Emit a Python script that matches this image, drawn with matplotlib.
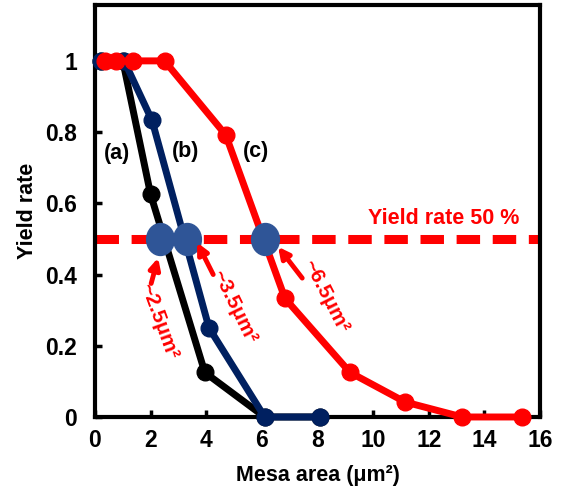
import matplotlib.pyplot as plt
from matplotlib.path import Path
from matplotlib.transforms import Affine2D

plt.rcParams["font.family"] = ["Liberation Sans", "DejaVu Sans"]
plt.rcParams["font.weight"] = "bold"

# (a) black, (b) navy, (c) red
area_a = [0.2, 1.0, 2.0, 3.95, 6.1, 8.1]
yield_a = [1, 1, 0.625, 0.125, 0, 0]
area_b = [0.2, 1.05, 2.05, 4.1, 6.1, 8.1]
yield_b = [1, 1, 0.833, 0.25, 0, 0]
area_c = [0.35, 0.75, 1.35, 2.5, 4.7, 6.83, 9.17, 11.15, 13.2, 15.35]
yield_c = [1, 1, 1, 1, 0.792, 0.333, 0.125, 0.042, 0, 0]

# 50 % crossing points
cross_x = [2.35, 3.3, 6.1]
cross_y = [0.5, 0.5, 0.5]
cross_text = ["~2.5μm²", "~3.5μm²", "~6.5μm²"]
cross_text_xy = [(2.3, 0.27), (5.0, 0.31), (8.3, 0.34)]
cross_text_rot = [-70, -64, -63]
arrow_tip = [(2.27, 0.447), (3.67, 0.49), (6.58, 0.478)]
arrow_tail = [(2.02, 0.375), (4.25, 0.40), (7.45, 0.39)]

curve_labels = ["(a)", "(b)", "(c)"]
curve_label_xy = [(0.8, 0.74), (3.25, 0.745), (5.8, 0.745)]

LW = 5
MS = 12

fig = plt.figure(figsize=(5.62, 4.97), dpi=100)
ax = fig.add_axes([0.169, 0.161, 0.792, 0.829])

ax.axhline(0.5, color="red", lw=6.5, dashes=(2.6, 1.4), zorder=1)

ax.plot(area_a, yield_a, color="black", lw=LW, marker="o", ms=MS, zorder=3,
        clip_on=False)
ax.plot(area_b, yield_b, color="#002060", lw=LW, marker="o", ms=MS, zorder=4,
        clip_on=False)
ax.plot(area_c, yield_c, color="red", lw=LW, marker="o", ms=MS, zorder=5,
        clip_on=False)

ellipse = Path.unit_circle().transformed(Affine2D().scale(0.87, 1.0))
ax.plot(cross_x, cross_y, linestyle="none", marker=ellipse, ms=23,
        color="#2F5597", zorder=6)

for txt, xy, rot in zip(cross_text, cross_text_xy, cross_text_rot):
    ax.text(xy[0], xy[1], txt, color="red", fontsize=15, fontweight="bold",
            rotation=rot, ha="center", va="center", rotation_mode="anchor",
            zorder=7)
for tip, tail in zip(arrow_tip, arrow_tail):
    ax.annotate("", xy=tip, xytext=tail, zorder=7,
                arrowprops=dict(arrowstyle="-|>", color="red", lw=3.5,
                                mutation_scale=16, shrinkA=0, shrinkB=0))

for txt, xy in zip(curve_labels, curve_label_xy):
    ax.text(xy[0], xy[1], txt, fontsize=15.5, fontweight="bold",
            ha="center", va="center")

ax.text(12.55, 0.556, "Yield rate 50 %", color="red", fontsize=15.5,
        fontweight="bold", ha="center", va="center")

ax.set_xlim(0, 16)
ax.set_ylim(0, 1.157)
ax.set_xticks(range(0, 17, 2))
ax.set_yticks([0, 0.2, 0.4, 0.6, 0.8, 1])
ax.set_yticklabels(["0", "0.2", "0.4", "0.6", "0.8", "1"])
ax.tick_params(direction="in", length=5, width=2.5, labelsize=16.5)
ax.tick_params(axis="x", pad=9)
ax.tick_params(axis="y", pad=13)
for lab in ax.get_xticklabels() + ax.get_yticklabels():
    lab.set_fontweight("bold")
for sp in ax.spines.values():
    sp.set_linewidth(3)
    sp.set_zorder(2)

ax.set_xlabel("Mesa area (μm²)", fontsize=15.5, fontweight="bold", labelpad=9)
ax.set_ylabel("Yield rate", fontsize=15.5, fontweight="bold", labelpad=5)

fig.savefig("out.png", dpi=100)
